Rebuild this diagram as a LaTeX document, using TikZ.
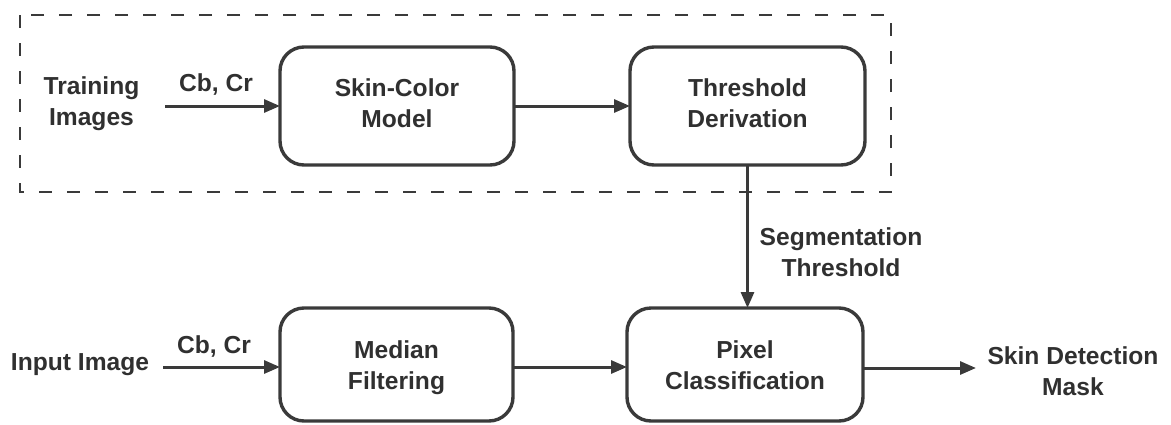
\documentclass[tikz,border=0pt]{standalone}
\usepackage{fontspec}
\setmainfont{Liberation Sans}
\usetikzlibrary{arrows.meta}
\definecolor{ink}{HTML}{3A3A3A}
\definecolor{txt}{HTML}{303030}
\begin{document}
\begin{tikzpicture}[x=1pt,y=-1pt,
  every node/.style={font=\fontsize{24.6}{31}\selectfont\bfseries, text=txt,
    inner sep=0pt, outer sep=0pt, align=center},
  block/.style={draw=ink, line width=3.4pt, rounded corners=24pt},
  lbl/.style={},
  arr/.style={draw=ink, line width=3pt, -{Triangle[length=16pt,width=13pt]}},
  frame/.style={draw=ink, line width=2pt, dash pattern=on 13pt off 15pt}]
\useasboundingbox (0,0) rectangle (1171,424);

% training stage enclosure
\draw[frame] (20,15) rectangle (891,192);

% processing blocks
\node[block, minimum width=234pt, minimum height=118pt] (skin) at (397,106) {};
\node[block, minimum width=235pt, minimum height=118pt] (thr)  at (747.5,106) {};
\node[block, minimum width=233pt, minimum height=113pt] (med)  at (396.5,364.5) {};
\node[block, minimum width=236pt, minimum height=113pt] (pix)  at (745,364.5) {};

% block captions (struts keep line positions independent of glyphs)
\node[lbl] (skinT) at (397,105.3)   {\strut Skin-Color\\\strut Model};
\node[lbl] (thrT)  at (747.5,105.3) {\strut Threshold\\\strut Derivation};
\node[lbl] (medT)  at (396.5,367.3) {\strut Median\\\strut Filtering};
\node[lbl] (pixT)  at (745,367.3)   {\strut Pixel\\\strut Classification};

% inputs, outputs and edge labels
\node[lbl] (train) at (91.5,103.3) {\strut Training\\\strut Images};
\node[lbl] (cb1)   at (216,84.8)   {\strut Cb, Cr};
\node[lbl] (input) at (80,363.8)   {\strut Input Image};
\node[lbl] (cb2)   at (214,346.8)  {\strut Cb, Cr};
\node[lbl] (seg)   at (841,254.3)  {\strut Segmentation\\\strut Threshold};
\node[lbl] (mask)  at (1073,373.3) {\strut Skin Detection\\\strut Mask};

% connector end points
\coordinate (trainOut) at (165,106);
\coordinate (inOut)    at (163,367);
\coordinate (maskIn)   at (976,368);

% connectors
\draw[arr] (trainOut) -- (skin.west);
\draw[arr] (skin.east) -- (thr.west);
\draw[arr] (thr.south) -- (thr.south |- pix.north);
\draw[arr] (inOut) -- (inOut -| med.west);
\draw[arr] (med.east |- inOut) -- (pix.west |- inOut);
\draw[arr] (pix.east |- maskIn) -- (maskIn);
\end{tikzpicture}
\end{document}
